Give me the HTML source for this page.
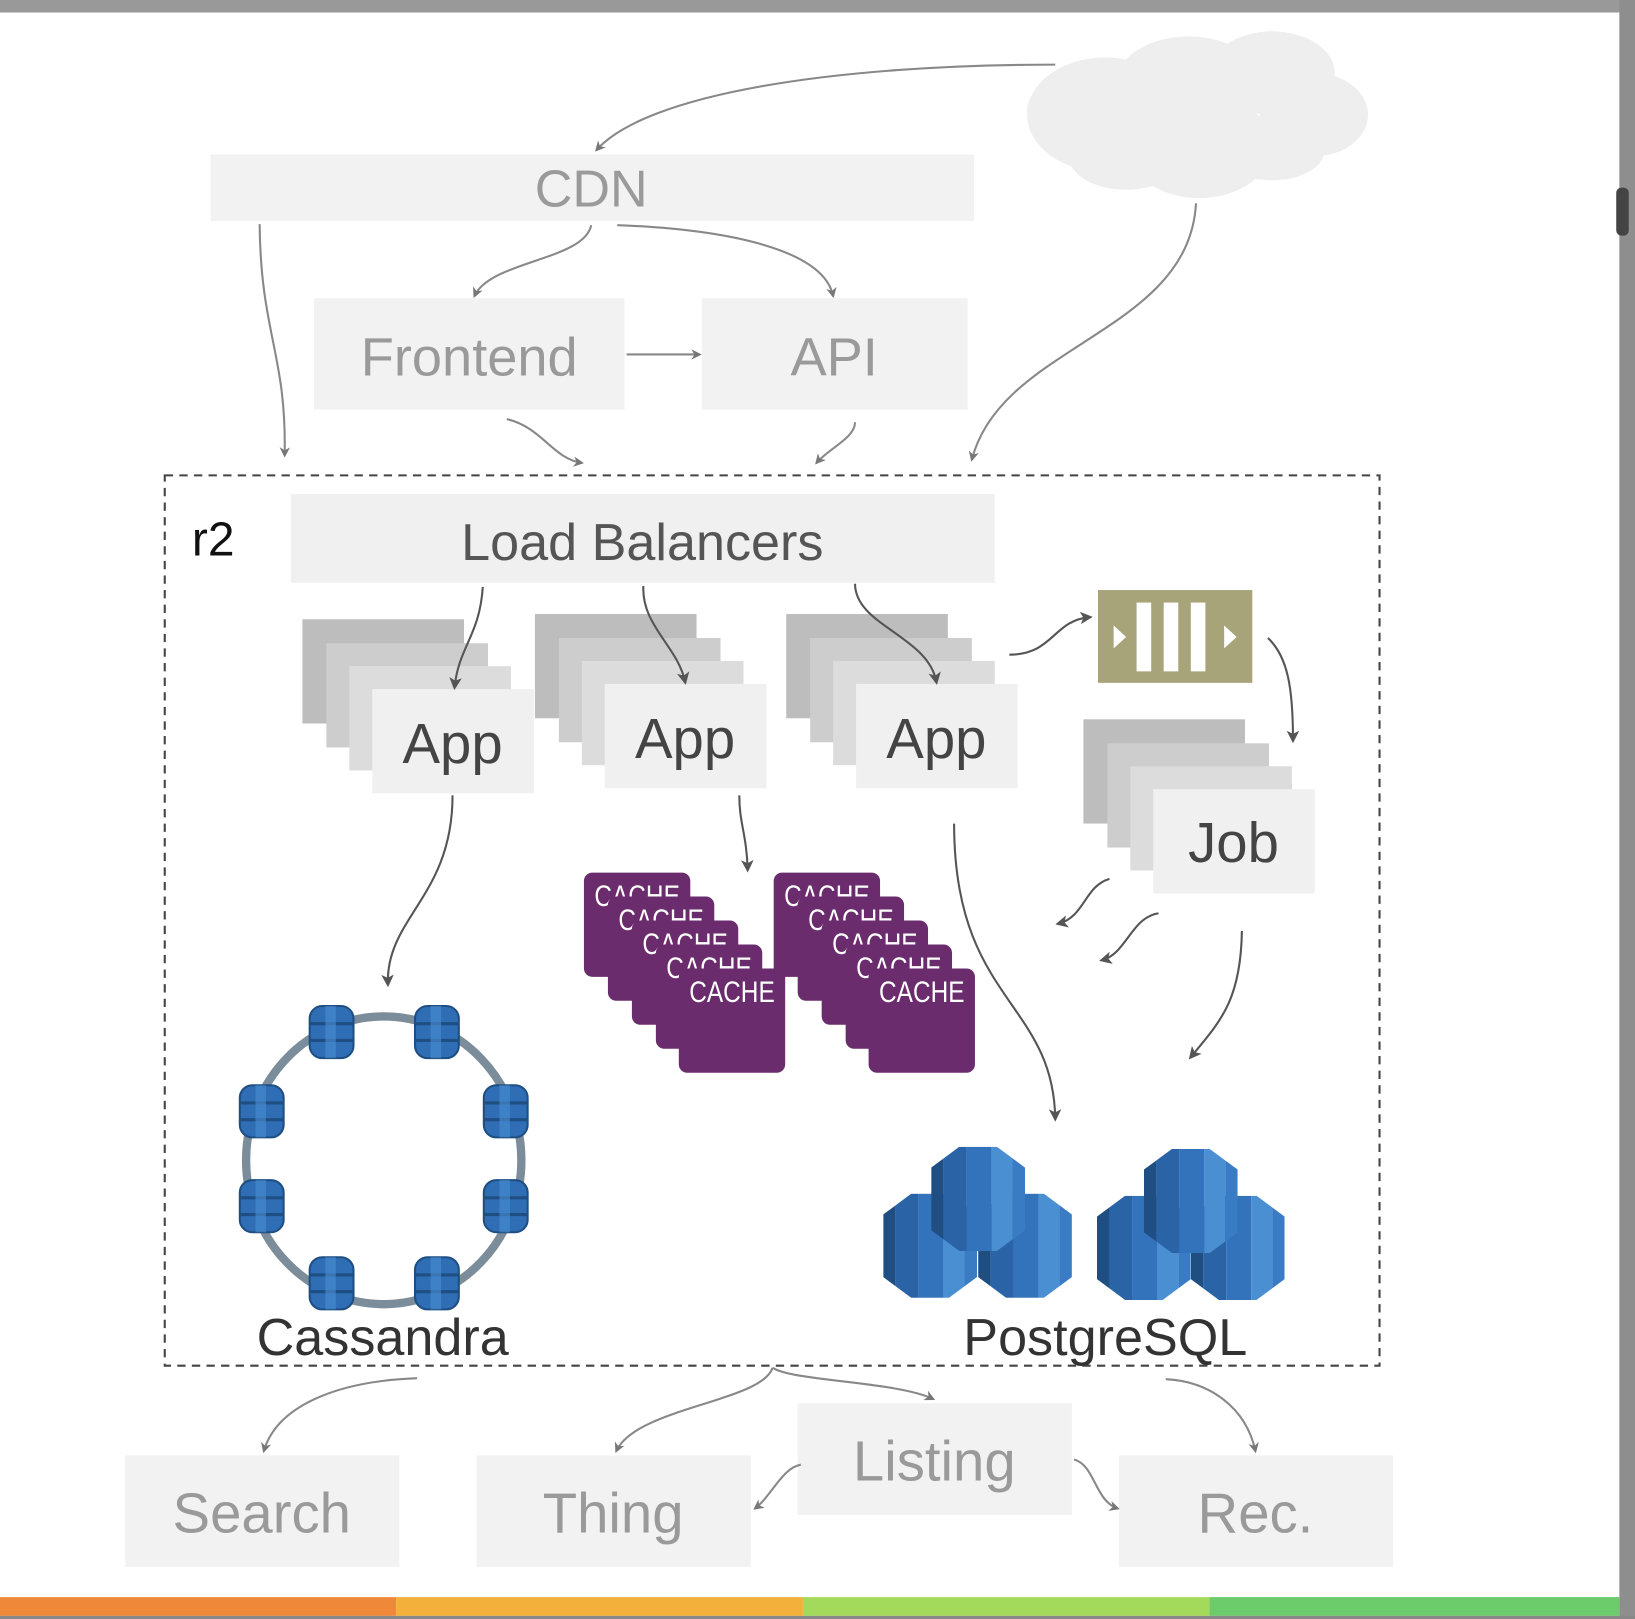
<!DOCTYPE html>
<html><head><meta charset="utf-8"><style>
html,body{margin:0;padding:0;background:#fff;}
svg{display:block;}
text{font-family:"Liberation Sans",sans-serif;}
</style></head><body>
<svg width="1635" height="1619" viewBox="0 0 1568 1553" preserveAspectRatio="none" xmlns="http://www.w3.org/2000/svg">
<defs>
<marker id="ah" markerWidth="10" markerHeight="10" refX="8" refY="5" orient="auto" markerUnits="userSpaceOnUse">
<path d="M0,0 L10,5 L0,10 L3,5 Z" fill="#777"/></marker>
<marker id="ah2" markerWidth="12" markerHeight="12" refX="9" refY="6" orient="auto" markerUnits="userSpaceOnUse">
<path d="M0,0 L12,6 L0,12 L3,6 Z" fill="#555"/></marker>
<clipPath id="oct"><polygon points="27,0 63,0 90,20 90,80 63,100 27,100 0,80 0,20"/></clipPath>
<g id="cyl">
<g clip-path="url(#oct)">
<rect x="0" y="0" width="12" height="100" fill="#1f4f82"/>
<rect x="12" y="0" width="22" height="100" fill="#2a64a6"/>
<rect x="34" y="0" width="24" height="100" fill="#3273bc"/>
<rect x="58" y="0" width="20" height="100" fill="#4b8fd3"/>
<rect x="78" y="0" width="12" height="100" fill="#3a7cc4"/>
</g></g>
<g id="node">
<rect x="-21" y="-25" width="42" height="50" rx="12" fill="#2f6db5"/>
<rect x="-21" y="-25" width="42" height="50" rx="12" fill="none" stroke="#1f4f82" stroke-width="2"/>
<line x1="-21" y1="-8" x2="21" y2="-8" stroke="#1f4f82" stroke-width="3"/>
<line x1="-21" y1="8" x2="21" y2="8" stroke="#1f4f82" stroke-width="3"/>
<rect x="-6" y="-25" width="10" height="50" fill="#4b8fd3" opacity="0.6"/>
</g>
<g id="cache">
<rect x="0" y="0" width="102" height="100" rx="8" fill="#6a2c6c"/>
<text x="10" y="32" font-size="28" fill="#fff" textLength="82" lengthAdjust="spacingAndGlyphs">CACHE</text>
</g>
</defs>

<rect x="0" y="0" width="1568" height="12" fill="#999"/>
<rect x="1553" y="0" width="15" height="1553" fill="#8e8e8e"/>
<rect x="1550" y="180" width="12" height="46" rx="5" fill="#444"/>
<rect x="0" y="1532" width="380" height="18" fill="#f0883a"/>
<rect x="380" y="1532" width="390" height="18" fill="#f3b03a"/>
<rect x="770" y="1532" width="390" height="18" fill="#a4da5c"/>
<rect x="1160" y="1532" width="393" height="18" fill="#6ccb6a"/>
<rect x="0" y="1550" width="1568" height="3" fill="#888"/>

<g fill="#eeeeee">
<ellipse cx="1060" cy="110" rx="75" ry="55"/>
<ellipse cx="1140" cy="80" rx="70" ry="45"/>
<ellipse cx="1220" cy="70" rx="60" ry="40"/>
<ellipse cx="1260" cy="110" rx="52" ry="40"/>
<ellipse cx="1150" cy="140" rx="70" ry="50"/>
<ellipse cx="1080" cy="150" rx="55" ry="32"/>
<ellipse cx="1220" cy="145" rx="50" ry="28"/>
<ellipse cx="1030" cy="105" rx="45" ry="30"/>
</g>

<rect x="202" y="148" width="732" height="64" fill="#f2f2f2"/>
<text x="567" y="198" font-size="50" fill="#9a9a9a" text-anchor="middle">CDN</text>
<rect x="301" y="286" width="298" height="107" fill="#f2f2f2"/>
<text x="450" y="360" font-size="52" fill="#9a9a9a" text-anchor="middle">Frontend</text>
<rect x="673" y="286" width="255" height="107" fill="#f2f2f2"/>
<text x="800" y="360" font-size="52" fill="#9a9a9a" text-anchor="middle">API</text>

<g fill="none" stroke="#888" stroke-width="2" marker-end="url(#ah)">
<path d="M1012,62 C800,62 620,90 572,144"/>
<path d="M567,216 C560,250 470,250 455,284"/>
<path d="M592,216 C700,220 790,240 799,284"/>
<path d="M249,215 C250,320 275,340 273,437"/>
<path d="M601,340 L671,340"/>
<path d="M486,402 C520,410 530,440 558,444"/>
<path d="M820,405 C820,420 795,430 783,444"/>
<path d="M1147,195 C1140,320 960,330 932,441"/>
</g>

<rect x="158" y="456" width="1165" height="854" fill="none" stroke="#444" stroke-width="2" stroke-dasharray="8,6"/>
<text x="184" y="533" font-size="46" fill="#111">r2</text>
<rect x="279" y="474" width="675" height="85" fill="#f0f0f0"/>
<text x="616" y="537" font-size="50" fill="#555" text-anchor="middle">Load Balancers</text>

<g>
<rect x="290" y="594" width="155" height="100" fill="#bdbdbd"/>
<rect x="313" y="617" width="155" height="100" fill="#cdcdcd"/>
<rect x="335" y="639" width="155" height="100" fill="#dcdcdc"/>
<rect x="357" y="661" width="155" height="100" fill="#f0f0f0"/>
<text x="434" y="732" font-size="54" fill="#444" text-anchor="middle">App</text>
</g>
<g>
<rect x="513" y="589" width="155" height="100" fill="#bdbdbd"/>
<rect x="536" y="612" width="155" height="100" fill="#cdcdcd"/>
<rect x="558" y="634" width="155" height="100" fill="#dcdcdc"/>
<rect x="580" y="656" width="155" height="100" fill="#f0f0f0"/>
<text x="657" y="727" font-size="54" fill="#444" text-anchor="middle">App</text>
</g>
<g>
<rect x="754" y="589" width="155" height="100" fill="#bdbdbd"/>
<rect x="777" y="612" width="155" height="100" fill="#cdcdcd"/>
<rect x="799" y="634" width="155" height="100" fill="#dcdcdc"/>
<rect x="821" y="656" width="155" height="100" fill="#f0f0f0"/>
<text x="898" y="727" font-size="54" fill="#444" text-anchor="middle">App</text>
</g>
<g>
<rect x="1039" y="690" width="155" height="100" fill="#bdbdbd"/>
<rect x="1062" y="713" width="155" height="100" fill="#cdcdcd"/>
<rect x="1084" y="735" width="155" height="100" fill="#dcdcdc"/>
<rect x="1106" y="757" width="155" height="100" fill="#f0f0f0"/>
<text x="1183" y="827" font-size="54" fill="#444" text-anchor="middle">Job</text>
</g>
<rect x="1053" y="566" width="148" height="89" fill="#a8a47a"/>
<polygon points="1068,600 1080,611 1068,622" fill="#fff"/>
<rect x="1090" y="578" width="14" height="66" fill="#fff"/>
<rect x="1116" y="578" width="14" height="66" fill="#fff"/>
<rect x="1142" y="578" width="14" height="66" fill="#fff"/>
<polygon points="1174,600 1186,611 1174,622" fill="#fff"/>

<use href="#cache" x="560" y="837"/>
<use href="#cache" x="583" y="860"/>
<use href="#cache" x="606" y="883"/>
<use href="#cache" x="629" y="906"/>
<use href="#cache" x="651" y="929"/>
<use href="#cache" x="742" y="837"/>
<use href="#cache" x="765" y="860"/>
<use href="#cache" x="788" y="883"/>
<use href="#cache" x="811" y="906"/>
<use href="#cache" x="833" y="929"/>

<g fill="none" stroke="#555" stroke-width="2" marker-end="url(#ah2)">
<path d="M463,563 C460,610 440,620 436,659"/>
<path d="M617,562 C615,600 650,620 657,654"/>
<path d="M820,560 C820,600 890,610 898,654"/>
<path d="M968,628 C1010,628 1010,595 1045,592"/>
<path d="M1216,612 C1235,630 1240,660 1240,710"/>
<path d="M434,763 C434,860 370,880 372,944"/>
<path d="M709,763 C709,790 716,800 717,834"/>
<path d="M915,790 C915,960 1010,960 1012,1073"/>
<path d="M1064,843 C1040,850 1040,880 1015,886"/>
<path d="M1111,876 C1085,880 1080,915 1057,921"/>
<path d="M1191,893 C1190,960 1170,980 1142,1014"/>
</g>

<ellipse cx="368" cy="1113" rx="132" ry="138" fill="none" stroke="#7b8d9a" stroke-width="8"/>
<use href="#node" x="318" y="990"/>
<use href="#node" x="419" y="990"/>
<use href="#node" x="251" y="1066"/>
<use href="#node" x="485" y="1066"/>
<use href="#node" x="251" y="1157"/>
<use href="#node" x="485" y="1157"/>
<use href="#node" x="318" y="1231"/>
<use href="#node" x="419" y="1231"/>
<text x="367" y="1300" font-size="50" fill="#333" text-anchor="middle">Cassandra</text>

<use href="#cyl" x="847" y="1145"/>
<use href="#cyl" x="938" y="1145"/>
<use href="#cyl" x="893" y="1100"/>
<use href="#cyl" x="1052" y="1147"/>
<use href="#cyl" x="1142" y="1147"/>
<use href="#cyl" x="1097" y="1102"/>
<text x="1060" y="1300" font-size="50" fill="#333" text-anchor="middle">PostgreSQL</text>

<rect x="120" y="1396" width="263" height="107" fill="#f2f2f2"/>
<text x="251" y="1470" font-size="54" fill="#9a9a9a" text-anchor="middle">Search</text>
<rect x="457" y="1396" width="263" height="107" fill="#f2f2f2"/>
<text x="588" y="1470" font-size="54" fill="#9a9a9a" text-anchor="middle">Thing</text>
<rect x="765" y="1346" width="263" height="107" fill="#f2f2f2"/>
<text x="896" y="1420" font-size="54" fill="#9a9a9a" text-anchor="middle">Listing</text>
<rect x="1073" y="1396" width="263" height="107" fill="#f2f2f2"/>
<text x="1204" y="1470" font-size="54" fill="#9a9a9a" text-anchor="middle">Rec.</text>

<g fill="none" stroke="#888" stroke-width="2" marker-end="url(#ah)">
<path d="M400,1322 C320,1325 265,1350 253,1392"/>
<path d="M741,1312 C730,1345 610,1350 591,1392"/>
<path d="M741,1312 C760,1325 860,1325 895,1342"/>
<path d="M1118,1323 C1160,1325 1195,1350 1204,1392"/>
<path d="M768,1405 C750,1408 740,1435 724,1447"/>
<path d="M1030,1400 C1050,1405 1050,1440 1072,1447"/>
</g>
</svg>
</body></html>
